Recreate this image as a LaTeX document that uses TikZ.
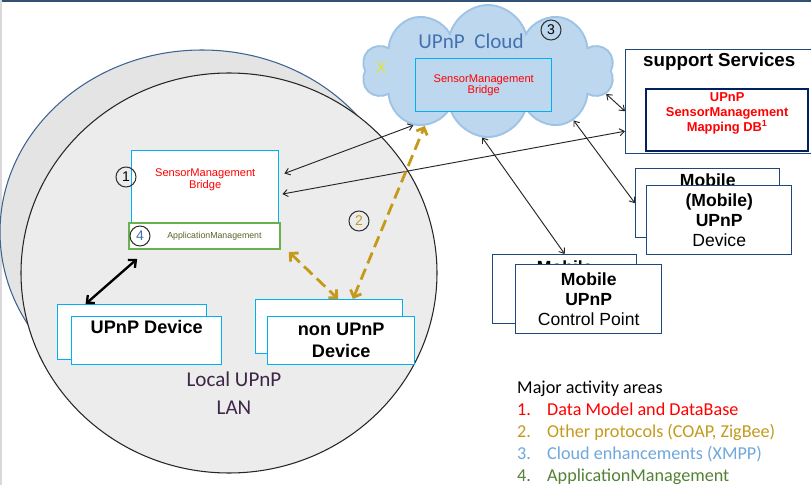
\documentclass[tikz,border=0pt]{standalone}
\usepackage{fontspec}
\setmainfont{Liberation Sans}
\newfontfamily\calibri{Carlito}
\usetikzlibrary{shapes.symbols,arrows.meta,calc,positioning}

% one unit of the picture
\newlength{\upx}
\setlength{\upx}{0.03cm}

\definecolor{ringline}{RGB}{61,100,145}
\definecolor{ringfill}{RGB}{228,228,228}
\definecolor{lanfill}{RGB}{236,236,236}
\definecolor{cloudfill}{RGB}{189,215,238}
\definecolor{cloudline}{RGB}{157,195,230}
\definecolor{cloudtext}{RGB}{68,114,176}
\definecolor{lanline}{RGB}{0,176,240}
\definecolor{mobline}{RGB}{31,73,125}
\definecolor{dbline}{RGB}{0,32,96}
\definecolor{appgreen}{RGB}{106,176,76}
\definecolor{apptext}{RGB}{90,100,40}
\definecolor{smred}{RGB}{255,0,0}
\definecolor{protgold}{RGB}{197,154,28}
\definecolor{cloudblue}{RGB}{111,168,220}
\definecolor{appdark}{RGB}{84,130,53}
\definecolor{lantext}{RGB}{62,38,70}
\definecolor{xyellow}{RGB}{228,224,60}

\newcommand{\devfont}{\fontsize{15}{17}\selectfont}
\newcommand{\smbfont}{\fontsize{9.5}{10}\selectfont}
\newcommand{\legfont}{\calibri\fontsize{15.5}{18.7}\selectfont}

\begin{document}
\begin{tikzpicture}[x=0.03cm,y=-0.03cm,
  lanbox/.style={draw=lanline,fill=white,line width=1.2pt,inner sep=0pt,anchor=north west},
  mobbox/.style={draw=mobline,fill=white,line width=1.2pt,inner sep=0pt,anchor=north west,align=center,font=\devfont},
  numcirc/.style={circle,draw=black!80,line width=0.9pt,inner sep=0pt,minimum size=20\upx,font=\fontsize{12}{12}\selectfont},
  link/.style={{Straight Barb[length=4pt,width=6pt]}-{Straight Barb[length=4pt,width=6pt]},line width=0.8pt,black!85},
  heavylink/.style={{Straight Barb[length=5pt,width=9pt]}-{Straight Barb[length=5pt,width=9pt]},line width=2pt,black},
  protlink/.style={{Straight Barb[length=5pt,width=10pt]}-{Straight Barb[length=5pt,width=10pt]},line width=2.4pt,protgold,dash pattern=on 10pt off 5pt}]

\clip (0,0) rectangle (811,485);
\fill[white] (0,0) rectangle (811,485);
\draw[ringline!80!black,line width=1.5pt] (0,1) -- (811,1);
\draw[black!15,line width=1pt] (1,0) -- (1,485);

% local network rings
\draw[draw=ringline,fill=ringfill,line width=0.9pt] (202,232) ellipse [x radius=202,y radius=182];
\draw[draw=black!85,fill=lanfill,line width=0.9pt] (229,273) ellipse [x radius=208,y radius=200];

% cloud
\node[cloud,cloud puffs=10,aspect=2,draw=cloudline,fill=cloudfill,line width=1.6pt,
  minimum width=252\upx,minimum height=132\upx,inner sep=0pt] (cloud) at (488,71) {};
\node[font=\calibri\fontsize{18}{22}\selectfont,text=cloudtext] (cloudname) at (471,41) {UPnP~ Cloud};
\node[numcirc] (n3) at (551,30) {3};
\node[text=xyellow,font=\fontsize{14}{14}\selectfont] (xmark) at (381,68) {X};
\node[lanbox,fill=cloudfill,minimum width=136\upx,minimum height=53\upx,
  align=center,font=\smbfont,text=smred] (smbC) at (415,58) {SensorManagement\\Bridge};

% bridge in the LAN
\node[lanbox,minimum width=147\upx,minimum height=72\upx,
  label={[font=\smbfont,text=smred,align=center,yshift=7\upx]center:SensorManagement\\Bridge}] (smbL) at (131,150) {};
\node[draw=appgreen,fill=white,line width=1.6pt,inner sep=0pt,anchor=north west,
  minimum width=151\upx,minimum height=26\upx,
  label={[font=\fontsize{7.5}{8}\selectfont,text=apptext,xshift=10\upx]center:ApplicationManagement}] (appm) at (128,222) {};
\node[numcirc] (n1) at (126,177) {1};
\node[numcirc,text=cloudtext] (n4) at (140,236) {4};
\node[numcirc,text=protgold] (n2) at (359,221) {2};

% devices in the LAN
\node[lanbox,minimum width=149\upx,minimum height=55\upx] (updevB) at (57,304) {};
\node[lanbox,minimum width=150\upx,minimum height=48\upx,
  label={[font=\fontsize{15.5}{17}\selectfont\bfseries,anchor=north]north:UPnP Device}] (updevF) at (71,316) {};
\node[lanbox,minimum width=147\upx,minimum height=54\upx] (nonupB) at (255,299) {};
\node[lanbox,minimum width=147\upx,minimum height=48\upx,align=center,
  font=\fontsize{15.5}{19}\selectfont\bfseries] (nonupF) at (267,316) {non UPnP\\Device};
\node[font=\calibri\fontsize{18}{23.8}\selectfont,text=lantext,align=center] (lanname) at (234,393) {Local UPnP\\LAN};

% support services
\node[draw=mobline,fill=white,line width=1.2pt,anchor=north west,
  minimum width=220\upx,minimum height=104\upx] (supp) at (625,49) {};
\node[font=\fontsize{16}{18}\selectfont\bfseries,anchor=west,inner sep=0pt] (supptitle) at (643,62) {support Services};
\node[draw=dbline,fill=white,line width=2pt,anchor=north west,minimum width=162\upx,minimum height=62\upx,
  label={[align=center,text=smred,font=\fontsize{11}{12.7}\selectfont\bfseries,yshift=7\upx]center:UPnP\\SensorManagement\\Mapping DB\textsuperscript{1}}] (mapdb) at (645,88) {};

% mobile devices
\node[mobbox,minimum width=144\upx,minimum height=69\upx,
  label={[font=\devfont\bfseries,anchor=north,yshift=-2\upx]north:Mobile}] (mobdevB) at (635,168) {};
\node[mobbox,minimum width=145\upx,minimum height=69\upx] (mobdevF) at (646,185) {\textbf{(Mobile)}\\\textbf{UPnP}\\Device};
\node[mobbox,minimum width=144\upx,minimum height=69\upx,
  label={[font=\devfont\bfseries,anchor=north,yshift=-3\upx]north:Mobile}] (mobcpB) at (492,254) {};
\node[mobbox,minimum width=146\upx,minimum height=69\upx] (mobcpF) at (515,264) {\textbf{Mobile}\\\textbf{UPnP}\\Control Point};

% activity areas
\node[anchor=north west,inner sep=0pt,align=left,font=\legfont] (areas) at (517,381) {%
  Major activity areas\\
  \textcolor{smred}{\makebox[30\upx][l]{1.}Data Model and DataBase}\\
  \textcolor{protgold}{\makebox[30\upx][l]{2.}Other protocols (COAP, ZigBee)}\\
  \textcolor{cloudblue}{\makebox[30\upx][l]{3.}Cloud enhancements (XMPP)}\\
  \textcolor{appdark}{\makebox[30\upx][l]{4.}ApplicationManagement}};

% connections
\draw[link] ($(smbL.north east)!0.32!(smbL.south east)+(5,0)$) -- (cloud.216);
\draw[link] ($(smbL.north east)!0.6!(smbL.south east)+(3,0)$) -- ($(supp.north west)!0.78!(supp.south west)$);
\draw[link] (cloud.349) -- ($(supp.north west)!0.59!(supp.south west)$);
\draw[link] (cloud.330) -- (mobdevB.west);
\draw[link] (cloud.265) -- (mobcpB.north);
\draw[heavylink] ($(appm.south west)!0.06!(appm.south east)+(0,9)$) -- ($(updevB.north west)!0.19!(updevB.north east)$);
\draw[protlink] ($(nonupB.north west)!0.66!(nonupB.north east)$) -- (cloud.221);
\draw[protlink] ($(appm.south east)+(8,2)$) -- ($(nonupB.north west)!0.56!(nonupB.north east)$);
\end{tikzpicture}
\end{document}
